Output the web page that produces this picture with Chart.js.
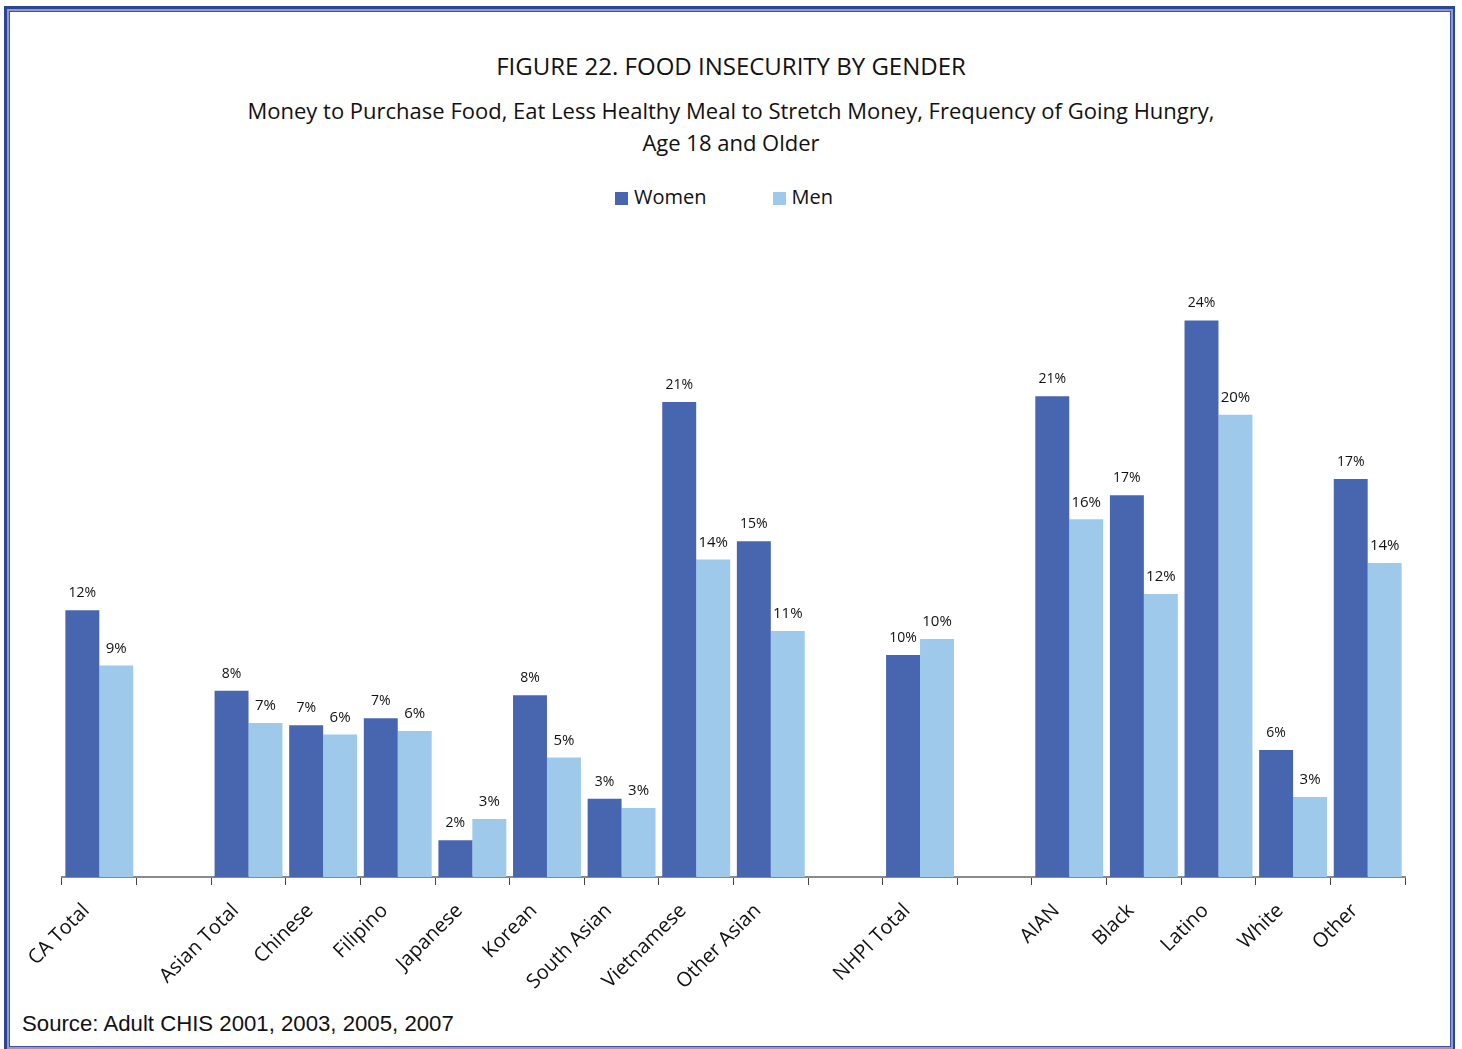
<!DOCTYPE html>
<html>
<head>
<meta charset="utf-8">
<script src="https://cdn.jsdelivr.net/npm/chart.js@4.4.0/dist/chart.umd.min.js"></script>
<style>
  body { margin: 0; background: #fff; }
  #wrap { position: relative; width: 1462px; height: 1049px; overflow: hidden; font-family: "Open Sans", sans-serif; color: #111; }
  .frame-outer { position: absolute; left: 4px; top: 6px; width: 1445px; height: 1043px; border: 3px solid #2d4596; border-bottom: none; }
  .frame-light { position: absolute; left: 7px; top: 9px; width: 1442px; height: 1036px; border: 2px solid #8e9ccc; }
  .frame-inner { position: absolute; left: 9px; top: 11px; width: 1440px; height: 1034px; border: 1px solid #3a53a6; }
  #title { position: absolute; left: 0; width: 1462px; top: 50px; text-align: center; font-size: 24px; line-height: 32px; }
  #subtitle { position: absolute; left: 0; width: 1462px; top: 94px; text-align: center; font-size: 22px; line-height: 32px; }
  #legend { position: absolute; left: -7px; width: 1462px; top: 183px; text-align: center; font-size: 20px; line-height: 28px; }
  #legend span.item { display: inline-block; margin: 0 33px; }
  #legend i { display: inline-block; width: 13px; height: 13px; margin-right: 6px; vertical-align: -1px; }
  #source { position: absolute; left: 22px; top: 1010px; font-family: "Liberation Sans", Arial, sans-serif; font-size: 22.2px; line-height: 28px; }
  canvas { position: absolute; left: 0; top: 0; }
</style>
</head>
<body>
<div id="wrap">
  <div class="frame-outer"></div>
  <div class="frame-light"></div>
  <div class="frame-inner"></div>
  <div id="title">FIGURE 22. FOOD INSECURITY BY GENDER</div>
  <div id="subtitle">Money to Purchase Food, Eat Less Healthy Meal to Stretch Money, Frequency of Going Hungry,<br>Age 18 and Older</div>
  <div id="legend"></div>
  <div id="source">Source: Adult CHIS 2001, 2003, 2005, 2007</div>
  <canvas id="chartFood" width="1462" height="1049"></canvas>
</div>
<script>
// Categorias (as vazias são espaçadores entre grupos)
const categories = ['CA Total', '', 'Asian Total', 'Chinese', 'Filipino', 'Japanese', 'Korean', 'South Asian',
    'Vietnamese', 'Other Asian', '', 'NHPI Total', '', 'AIAN', 'Black', 'Latino', 'White', 'Other'];

// Percentuais
const women = [11.6, null, 8.1, 6.6, 6.9, 1.6, 7.9, 3.4, 20.65, 14.6, null, 9.65, null, 20.9, 16.6, 24.2, 5.52, 17.3];
const men   = [9.2, null, 6.7, 6.2, 6.35, 2.52, 5.2, 3.0, 13.8, 10.7, null, 10.35, null, 15.55, 12.3, 20.1, 3.48, 13.65];

const seriesNames = ['Women', 'Men'];
const seriesColors = ['#4866b0', '#9fc9ea'];

// Legenda em HTML
const legendEl = document.getElementById('legend');
seriesNames.forEach((name, i) => {
    const item = document.createElement('span');
    item.className = 'item';
    item.innerHTML = '<i style="background:' + seriesColors[i] + '"></i>' + name;
    legendEl.appendChild(item);
});

// Rótulos de valor acima das barras
const valueLabels = {
    id: 'valueLabels',
    afterDatasetsDraw(chart) {
        const ctx = chart.ctx;
        chart.data.datasets.forEach((ds, i) => {
            const meta = chart.getDatasetMeta(i);
            meta.data.forEach((bar, j) => {
                const v = ds.data[j];
                if (v === null || v === undefined) return;
                ctx.save();
                ctx.font = (i === 0 ? '14px' : '15px') + ' "Open Sans", sans-serif';
                ctx.fillStyle = '#111';
                ctx.textAlign = 'center';
                ctx.textBaseline = 'middle';
                ctx.fillText(Math.round(v) + '%', bar.x, bar.y - 17);
                ctx.restore();
            });
        });
    }
};

function initChart() {
    const ctx = document.getElementById('chartFood').getContext('2d');
    new Chart(ctx, {
        type: 'bar',
        data: {
            labels: categories,
            datasets: [
                { label: seriesNames[0], data: women, backgroundColor: seriesColors[0] },
                { label: seriesNames[1], data: men, backgroundColor: seriesColors[1] },
            ],
        },
        options: {
            responsive: false,
            animation: false,
            layout: { padding: { top: 302, left: 62, right: 57, bottom: 52 } },
            datasets: { bar: { categoryPercentage: 0.91, barPercentage: 1.0 } },
            plugins: {
                legend: { display: false },
                tooltip: { enabled: false },
            },
            scales: {
                x: {
                    grid: { offset: true, drawOnChartArea: false, drawTicks: true, tickLength: 8, color: '#444' },
                    border: { display: true, color: '#8a8a8a', width: 2 },
                    ticks: {
                        autoSkip: false,
                        maxRotation: 45,
                        minRotation: 45,
                        labelOffset: -13,
                        padding: 14,
                        color: '#111',
                        font: { family: '"Open Sans", sans-serif', size: 20 },
                    },
                    afterFit(scale) { scale.height = 120; },
                },
                y: {
                    display: false,
                    min: 0,
                    max: 25,
                },
            },
        },
        plugins: [valueLabels],
    });
}

document.fonts.ready.then(initChart);
</script>
</body>
</html>
